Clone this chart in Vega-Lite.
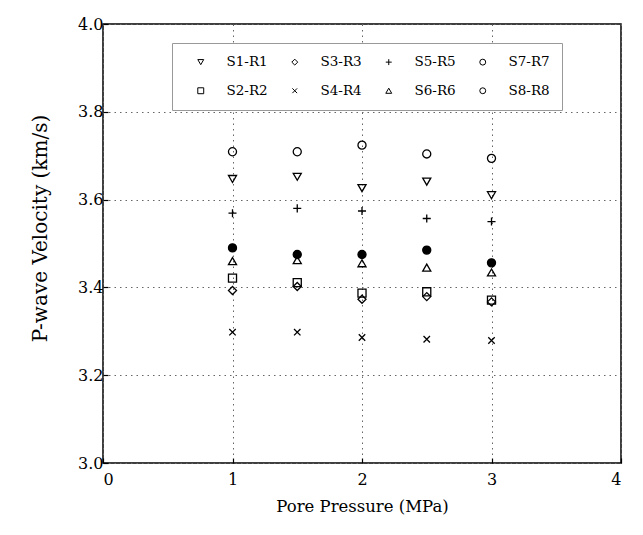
{
  "$schema": "https://vega.github.io/schema/vega-lite/v6.json",
  "width": 518,
  "height": 439,
  "autosize": {"type": "none"},
  "padding": {"left": 103, "top": 24, "right": 22, "bottom": 72},
  "background": "white",
  "config": {
    "font": "DejaVu Serif",
    "view": {"stroke": "black", "strokeWidth": 1.5},
    "axis": {
      "labelFont": "DejaVu Serif",
      "titleFont": "DejaVu Serif",
      "labelColor": "black",
      "titleColor": "black",
      "labelFontSize": 16,
      "titleFontSize": 16.5,
      "titleFontWeight": "normal",
      "domain": false,
      "tickColor": "black",
      "tickSize": -5,
      "tickWidth": 1.2,
      "gridColor": "#666",
      "gridDash": [1.5, 4],
      "gridWidth": 1
    }
  },
  "data": {
    "values": [
      {"series": "S1-R1", "p": 1, "v": 3.647},
      {"series": "S1-R1", "p": 1.5, "v": 3.652},
      {"series": "S1-R1", "p": 2, "v": 3.626},
      {"series": "S1-R1", "p": 2.5, "v": 3.641},
      {"series": "S1-R1", "p": 3, "v": 3.61},
      {"series": "S2-R2", "p": 1, "v": 3.421},
      {"series": "S2-R2", "p": 1.5, "v": 3.411},
      {"series": "S2-R2", "p": 2, "v": 3.387},
      {"series": "S2-R2", "p": 2.5, "v": 3.39},
      {"series": "S2-R2", "p": 3, "v": 3.371},
      {"series": "S3-R3", "p": 1, "v": 3.393},
      {"series": "S3-R3", "p": 1.5, "v": 3.402},
      {"series": "S3-R3", "p": 2, "v": 3.373},
      {"series": "S3-R3", "p": 2.5, "v": 3.379},
      {"series": "S3-R3", "p": 3, "v": 3.367},
      {"series": "S4-R4", "p": 1, "v": 3.298},
      {"series": "S4-R4", "p": 1.5, "v": 3.298},
      {"series": "S4-R4", "p": 2, "v": 3.286},
      {"series": "S4-R4", "p": 2.5, "v": 3.282},
      {"series": "S4-R4", "p": 3, "v": 3.279},
      {"series": "S5-R5", "p": 1, "v": 3.569},
      {"series": "S5-R5", "p": 1.5, "v": 3.58},
      {"series": "S5-R5", "p": 2, "v": 3.574},
      {"series": "S5-R5", "p": 2.5, "v": 3.557},
      {"series": "S5-R5", "p": 3, "v": 3.55},
      {"series": "S6-R6", "p": 1, "v": 3.46},
      {"series": "S6-R6", "p": 1.5, "v": 3.462},
      {"series": "S6-R6", "p": 2, "v": 3.455},
      {"series": "S6-R6", "p": 2.5, "v": 3.445},
      {"series": "S6-R6", "p": 3, "v": 3.434},
      {"series": "S7-R7", "p": 1, "v": 3.709},
      {"series": "S7-R7", "p": 1.5, "v": 3.709},
      {"series": "S7-R7", "p": 2, "v": 3.724},
      {"series": "S7-R7", "p": 2.5, "v": 3.704},
      {"series": "S7-R7", "p": 3, "v": 3.694},
      {"series": "S8-R8", "p": 1, "v": 3.49},
      {"series": "S8-R8", "p": 1.5, "v": 3.475},
      {"series": "S8-R8", "p": 2, "v": 3.475},
      {"series": "S8-R8", "p": 2.5, "v": 3.485},
      {"series": "S8-R8", "p": 3, "v": 3.456}
    ]
  },
  "mark": {"type": "point", "filled": false, "size": 65, "strokeWidth": 1.3, "color": "black", "opacity": 1},
  "encoding": {
    "x": {
      "field": "p", "type": "quantitative",
      "scale": {"domain": [0, 4], "nice": false},
      "axis": {"values": [0, 1, 2, 3, 4], "format": "d", "title": "Pore Pressure (MPa)", "titlePadding": 11, "labelPadding": 13}
    },
    "y": {
      "field": "v", "type": "quantitative",
      "scale": {"domain": [3.0, 4.0], "nice": false, "zero": false},
      "axis": {
        "values": [3.0, 3.2, 3.4, 3.6, 3.8, 4.0], "format": ".1f",
        "title": "P-wave Velocity (km/s)", "titleFontSize": 20,
        "titleX": -63, "titleY": 204, "titleBaseline": "middle", "titleAlign": "center", "titleAngle": -90,
        "labelPadding": 5
      }
    },
    "shape": {
      "field": "series", "type": "nominal",
      "scale": {
        "domain": ["S1-R1", "S3-R3", "S5-R5", "S7-R7", "S2-R2", "S4-R4", "S6-R6", "S8-R8"],
        "range": ["triangle-down", "diamond", "M-1,0L1,0M0,-1L0,1", "circle", "square", "M-0.8,-0.8L0.8,0.8M-0.8,0.8L0.8,-0.8", "triangle-up", "circle"]
      },
      "legend": {
        "title": null,
        "orient": "none",
        "legendX": 69,
        "legendY": 19,
        "direction": "horizontal",
        "columns": 4,
        "gridAlign": "all",
        "labelFont": "DejaVu Serif",
        "labelFontSize": 13.5,
        "labelColor": "black",
        "labelOffset": 19,
        "columnPadding": 10,
        "rowPadding": 14,
        "padding": 12,
        "symbolOffset": 10,
        "symbolSize": 35,
        "symbolStrokeColor": "black",
        "symbolStrokeWidth": 1,
        "symbolFillColor": "transparent",
        "strokeColor": "#999",
        "fillColor": "white"
      }
    },
    "fill": {
      "condition": {"test": "datum.series === 'S8-R8'", "value": "black"},
      "value": "transparent"
    }
  }
}
